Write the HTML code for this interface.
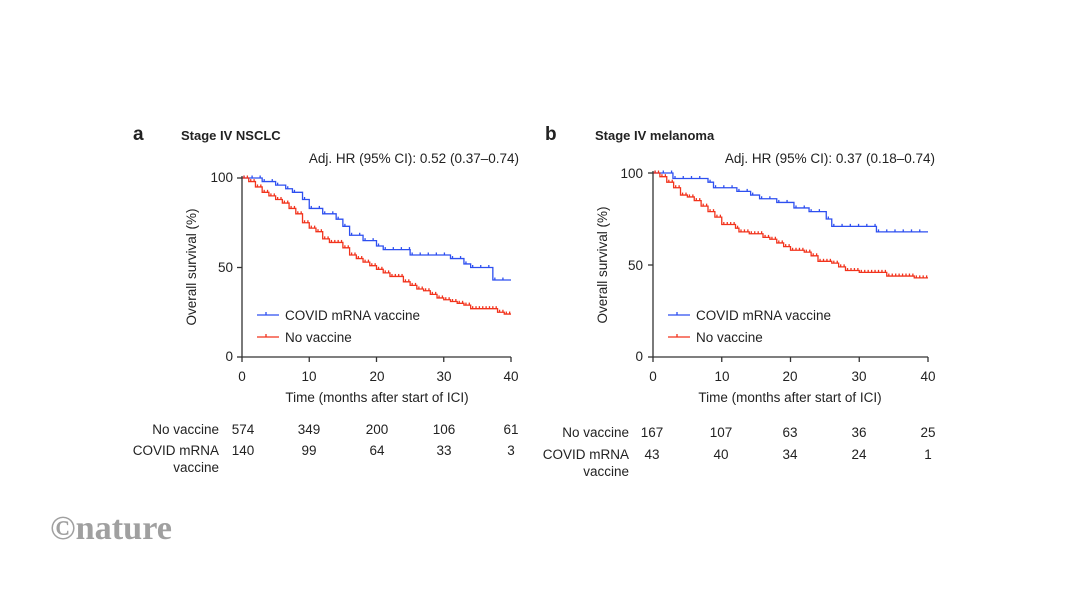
<!DOCTYPE html>
<html><head><meta charset="utf-8"><style>
html,body{margin:0;padding:0;background:#fff;}
svg{display:block;}
text{font-family:"Liberation Sans",Arial,sans-serif;fill:#222;}
text.logo{font-family:"Liberation Serif","DejaVu Serif",serif;fill:#a0a0a0;}
</style></head><body>
<svg id="s" width="1066" height="600" viewBox="0 0 1066 600" xmlns="http://www.w3.org/2000/svg">
<rect width="1066" height="600" fill="#fff"/>
<text x="133" y="140" font-size="19" font-weight="bold" fill="#111">a</text>
<text x="181" y="140" font-size="13" font-weight="bold" fill="#111">Stage IV NSCLC</text>
<text x="519" y="163" font-size="13.5" text-anchor="end">Adj. HR (95% CI): 0.52 (0.37–0.74)</text>
<text x="233" y="182" font-size="13.5" text-anchor="end">100</text>
<text x="233" y="272" font-size="13.5" text-anchor="end">50</text>
<text x="233" y="361" font-size="13.5" text-anchor="end">0</text>
<text transform="translate(196,267) rotate(-90)" font-size="13.5" text-anchor="middle">Overall survival (%)</text>
<g font-size="13.5" text-anchor="middle">
<text x="242" y="381">0</text><text x="309" y="381">10</text><text x="377" y="381">20</text><text x="444" y="381">30</text><text x="511" y="381">40</text>
</g>
<text x="377" y="402" font-size="13.5" text-anchor="middle">Time (months after start of ICI)</text>
<text x="545" y="140" font-size="19" font-weight="bold" fill="#111">b</text>
<text x="595" y="140" font-size="13" font-weight="bold" fill="#111">Stage IV melanoma</text>
<text x="935" y="163" font-size="13.5" text-anchor="end">Adj. HR (95% CI): 0.37 (0.18–0.74)</text>
<text x="643" y="178" font-size="13.5" text-anchor="end">100</text>
<text x="643" y="270" font-size="13.5" text-anchor="end">50</text>
<text x="643" y="361" font-size="13.5" text-anchor="end">0</text>
<text transform="translate(607,265) rotate(-90)" font-size="13.5" text-anchor="middle">Overall survival (%)</text>
<g font-size="13.5" text-anchor="middle">
<text x="653" y="381">0</text><text x="722" y="381">10</text><text x="790" y="381">20</text><text x="859" y="381">30</text><text x="928" y="381">40</text>
</g>
<text x="790" y="402" font-size="13.5" text-anchor="middle">Time (months after start of ICI)</text>
<g font-size="13.5">
<text x="219" y="434" text-anchor="end">No vaccine</text>
<text x="219" y="455" text-anchor="end">COVID mRNA</text>
<text x="219" y="472" text-anchor="end">vaccine</text>
<g text-anchor="middle">
<text x="243" y="434">574</text><text x="309" y="434">349</text><text x="377" y="434">200</text><text x="444" y="434">106</text><text x="511" y="434">61</text>
<text x="243" y="455">140</text><text x="309" y="455">99</text><text x="377" y="455">64</text><text x="444" y="455">33</text><text x="511" y="455">3</text>
</g>
<text x="629" y="437" text-anchor="end">No vaccine</text>
<text x="629" y="459" text-anchor="end">COVID mRNA</text>
<text x="629" y="476" text-anchor="end">vaccine</text>
<g text-anchor="middle">
<text x="652" y="437">167</text><text x="721" y="437">107</text><text x="790" y="437">63</text><text x="859" y="437">36</text><text x="928" y="437">25</text>
<text x="652" y="459">43</text><text x="721" y="459">40</text><text x="790" y="459">34</text><text x="859" y="459">24</text><text x="928" y="459">1</text>
</g>
</g>
<text class="logo" x="50" y="539" font-size="34" font-weight="bold" textLength="122" lengthAdjust="spacingAndGlyphs">©nature</text>
<g id="plots"></g>
</svg>
<script>
var g=document.getElementById('plots'),NS='http://www.w3.org/2000/svg';
function el(t,a){var e=document.createElementNS(NS,t);for(var k in a)e.setAttribute(k,a[k]);g.appendChild(e);return e;}
function panel(x0,x1,yb,yt,blue,red){
 var X=function(m){return x0+(x1-x0)*m/40},Y=function(p){return yb+(yt-yb)*p/100};
 function curve(pts,col,step){
  var d='M'+X(0)+','+Y(pts[0][1]);
  for(var i=1;i<pts.length;i++){d+=' H'+X(pts[i][0])+' V'+Y(pts[i][1]);}
  d+=' H'+X(40);
  el('path',{d:d,fill:'none',stroke:col,'stroke-width':1.3});
  for(var i=0;i<pts.length;i++){var a=pts[i][0],b=i<pts.length-1?pts[i+1][0]:40;
   for(var m=a+0.3;m<b;m+=step){el('line',{x1:X(m),x2:X(m),y1:Y(pts[i][1])-2.5,y2:Y(pts[i][1]),stroke:col,'stroke-width':1.3});}}
 }
 curve(blue,'#2d4ff0',1.2);curve(red,'#f2331c',0.5);
 el('path',{d:'M'+x0+','+(yt-2)+' V'+yb+' H'+x1,fill:'none',stroke:'#333','stroke-width':1.3});
 [0,50,100].forEach(function(p){el('line',{x1:x0-5,x2:x0,y1:Y(p),y2:Y(p),stroke:'#333','stroke-width':1.3})});
 [0,10,20,30,40].forEach(function(m){el('line',{x1:X(m),x2:X(m),y1:yb,y2:yb+5,stroke:'#333','stroke-width':1.3})});
 var lx=x0+15;
 el('line',{x1:lx,x2:lx+22,y1:315,y2:315,stroke:'#2d4ff0','stroke-width':1.3});
 el('line',{x1:lx+9,x2:lx+9,y1:312,y2:315,stroke:'#2d4ff0','stroke-width':1.3});
 el('line',{x1:lx,x2:lx+22,y1:337,y2:337,stroke:'#f2331c','stroke-width':1.3});
 el('line',{x1:lx+9,x2:lx+9,y1:334,y2:337,stroke:'#f2331c','stroke-width':1.3});
 var t=el('text',{x:lx+28,y:320,'font-size':13.5});t.textContent='COVID mRNA vaccine';
 t=el('text',{x:lx+28,y:342,'font-size':13.5});t.textContent='No vaccine';
}
panel(242,511,357,178,
 [[0,100],[3,98],[5,96],[6.5,94],[7.5,92],[9,88],[10,83],[12,80],[14,77],[15,73],[16,68],[18,65],[20,62],[21,60],[25,57],[31,55],[33,52],[34,50],[37.3,43]],
 [[0,100],[1,98],[2,95],[3,92],[4,90],[5,88],[6,86],[7,83],[8,80],[9,75],[10,72],[11,70],[12,66],[13,64],[15,61],[16,57],[17,55],[18,53],[19,51],[20,49],[21,47],[22,45],[24,42],[25,40],[26,38],[27,37],[28,35],[29,33],[30,32],[31,31],[32,30],[33,29],[34,27],[38,25],[39,24]]);
panel(653,928,357,173,
 [[0,100],[2.9,97],[8,95],[8.8,92],[12.2,90],[14.2,88],[15.5,86],[18,84],[20.5,81],[22.7,79],[25.2,75],[26,71],[32.5,68]],
 [[0,100],[1,98],[2,95],[3,92],[4,88],[5,87],[6,85],[7,82],[8,79],[9,76],[10,72],[12,70],[12.5,68],[14,67],[16,65],[17,64],[18,62],[19,60],[20,58],[22,57],[23,55],[24,52],[26,51],[27,49],[28,47],[30,46],[34,44],[38,43]]);
</script>
</body></html>
